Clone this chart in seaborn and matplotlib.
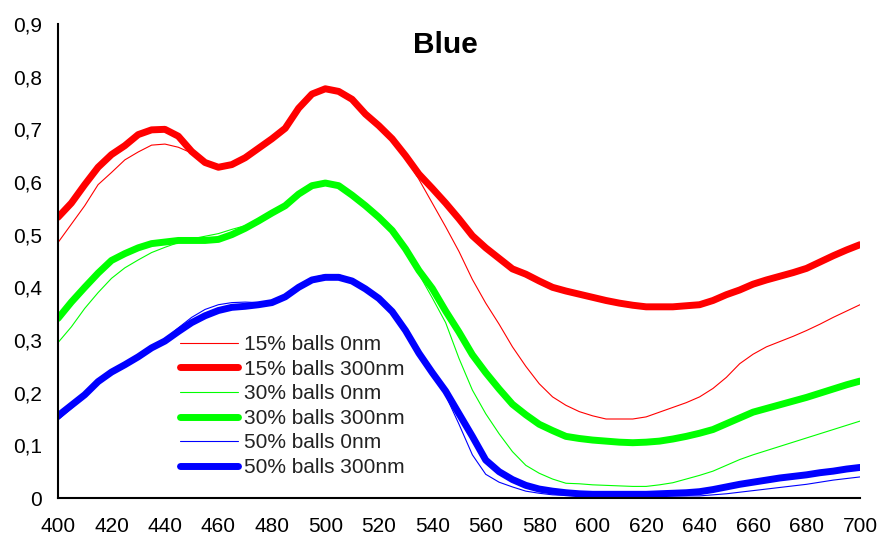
import numpy as np
import pandas as pd
import matplotlib
matplotlib.use("Agg")
import matplotlib.pyplot as plt
import seaborn as sns
from matplotlib.ticker import FuncFormatter, MultipleLocator

# wavelength (nm)
wl = list(range(400, 705, 5))

# 15% balls
r0 = [.485, .520, .555, .595, .618, .642, .657, .670, .672, .666,
      .655, .638, .628, .634, .646, .664, .682, .702, .738, .766,
      .777, .773, .756, .729, .707, .681, .646, .605, .560, .515,
      .468, .415, .370, .330, .287, .250, .217, .192, .176, .164,
      .156, .150, .150, .150, .154, .163, .172, .181, .192, .208,
      .229, .255, .273, .287, .297, .307, .318, .330, .343, .355, .367]
r300 = [.533, .560, .595, .628, .652, .669, .690, .699, .700, .687,
        .658, .637, .628, .633, .646, .664, .682, .702, .740, .767,
        .777, .772, .757, .729, .707, .682, .650, .615, .588, .560,
        .530, .498, .475, .455, .435, .425, .412, .400, .393, .387,
        .381, .375, .370, .366, .363, .363, .363, .365, .367, .375,
        .386, .395, .406, .414, .421, .428, .436, .448, .460, .471, .481]

# 30% balls
g0 = [.295, .325, .360, .390, .417, .437, .452, .466, .476, .485,
      .492, .497, .502, .510, .517, .527, .541, .555, .577, .593,
      .598, .593, .575, .555, .533, .508, .470, .425, .380, .333,
      .265, .205, .160, .122, .088, .062, .047, .036, .028, .027,
      .025, .024, .023, .022, .022, .025, .029, .036, .043, .051,
      .062, .073, .082, .090, .098, .106, .114, .122, .130, .138, .146]
g300 = [.341, .372, .400, .427, .451, .464, .475, .483, .486, .489,
        .489, .489, .491, .500, .512, .526, .541, .555, .577, .593,
        .598, .593, .575, .555, .533, .508, .473, .432, .398, .355,
        .315, .272, .238, .207, .178, .158, .140, .128, .117, .113,
        .110, .108, .106, .105, .106, .108, .112, .117, .123, .130,
        .141, .152, .163, .170, .177, .184, .191, .199, .207, .215, .222]

# 50% balls
b0 = [.148, .170, .192, .217, .237, .252, .268, .285, .302, .323,
      .343, .358, .367, .371, .372, .371, .373, .385, .403, .418,
      .424, .424, .415, .399, .380, .354, .316, .272, .235, .195,
      .140, .082, .045, .030, .021, .013, .009, .006, .005, .004,
      .004, .004, .004, .004, .004, .004, .004, .004, .004, .006,
      .008, .011, .014, .017, .020, .023, .026, .030, .034, .037, .040]
b300 = [.156, .176, .196, .221, .239, .253, .268, .285, .298, .316,
        .333, .346, .356, .362, .364, .367, .371, .382, .400, .414,
        .419, .419, .412, .397, .379, .354, .318, .275, .238, .203,
        .160, .117, .072, .050, .035, .024, .017, .013, .010, .008,
        .007, .007, .007, .007, .007, .008, .009, .010, .012, .016,
        .021, .026, .030, .034, .038, .041, .044, .048, .051, .055, .058]

series = [
    ("15% balls 0nm", r0, "#ff0000", 0.8),
    ("15% balls 300nm", r300, "#ff0000", 5.0),
    ("30% balls 0nm", g0, "#00ff00", 0.8),
    ("30% balls 300nm", g300, "#00ff00", 5.0),
    ("50% balls 0nm", b0, "#0000ff", 0.8),
    ("50% balls 300nm", b300, "#0000ff", 5.0),
]

sns.set_style("white")
plt.rcParams["font.family"] = ["Liberation Sans", "DejaVu Sans"]
plt.rcParams["text.color"] = "black"

fig = plt.figure(figsize=(8.77, 5.4), dpi=100)
ax = fig.add_axes([58 / 877, 1 - 498 / 540, (860 - 58) / 877, (498 - 24) / 540])

for name, vals, col, lw in series:
    df = pd.DataFrame({"wl": wl, "val": vals})
    sns.lineplot(data=df, x="wl", y="val", color=col, linewidth=lw,
                 label=name, ax=ax, solid_capstyle="round")

ax.set_xlim(400, 700)
ax.set_ylim(0, 0.9)
ax.xaxis.set_major_locator(MultipleLocator(20))
ax.yaxis.set_major_locator(MultipleLocator(0.1))
ax.yaxis.set_major_formatter(FuncFormatter(
    lambda v, p: "0" if abs(v) < 1e-9 else f"{v:.1f}".replace(".", ",")))
ax.set_xlabel("")
ax.set_ylabel("")
for s in ["top", "right"]:
    ax.spines[s].set_visible(False)
for s in ["left", "bottom"]:
    ax.spines[s].set_linewidth(1.5)
    ax.spines[s].set_color("black")
ax.tick_params(axis="both", direction="out", length=5, width=1.5,
               labelsize=15, colors="black")
ax.tick_params(axis="x", pad=9)
ax.tick_params(axis="y", pad=6.5)

fig.text(445 / 877, 1 - 45 / 540, "Blue", ha="center", va="center",
         fontsize=21.5, fontweight="bold", color="black")

leg = ax.legend(loc="upper left", bbox_to_anchor=(180 / 877, 1 - 335 / 540),
                bbox_transform=fig.transFigure, frameon=False, fontsize=15,
                handlelength=2.8, handletextpad=0.25, labelspacing=0.27,
                borderpad=0, borderaxespad=0)
for t in leg.get_texts():
    t.set_color("#222222")

fig.savefig("out.png", dpi=100)
